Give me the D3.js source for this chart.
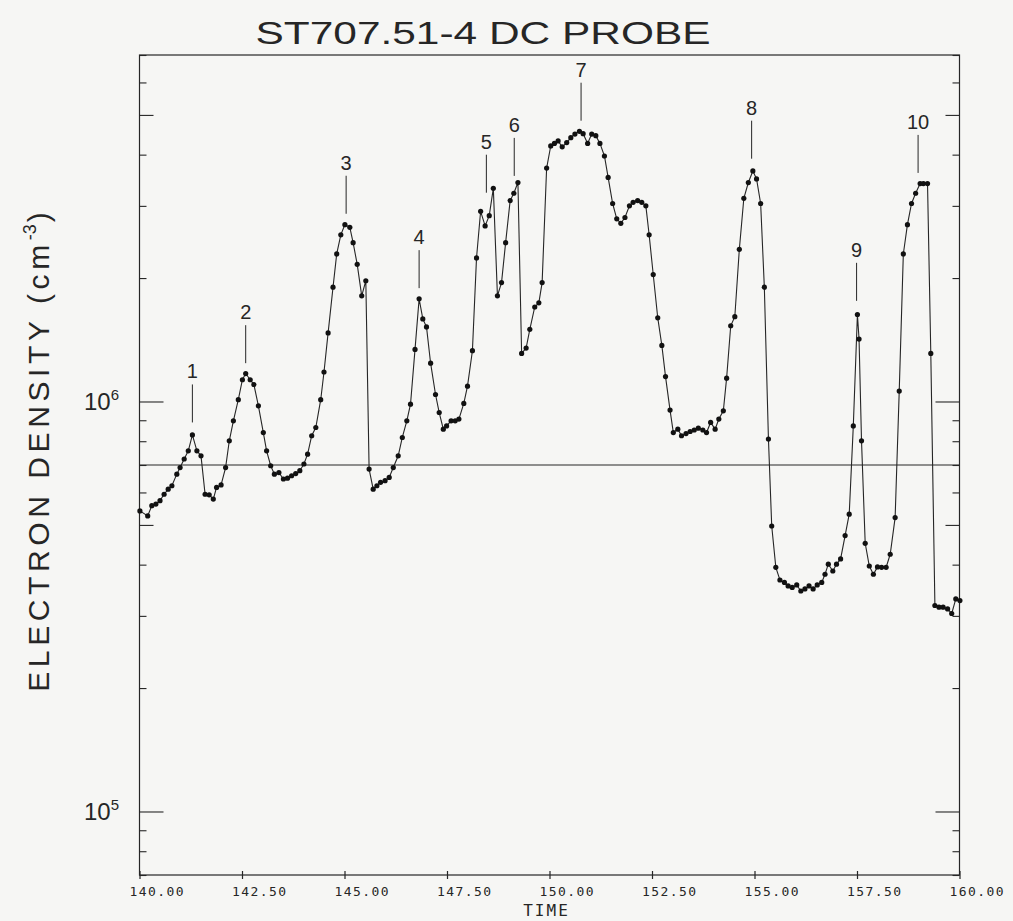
<!DOCTYPE html>
<html>
<head>
<meta charset="utf-8">
<script src="https://cdn.jsdelivr.net/npm/d3@7"></script>
<style>
  html, body { margin: 0; padding: 0; background: #f6f6f4; }
  svg { display: block; }
  .lettering { font-family: "Liberation Sans", "DejaVu Sans", sans-serif; fill: #262626; }
  .plotter { font-family: "DejaVu Sans Mono", "Liberation Mono", monospace; fill: #262626; }
</style>
</head>
<body>
<div id="chart"></div>
<script>
// sample times
const times = [
  140.01, 140.20, 140.30, 140.40, 140.50, 140.60, 140.70, 140.79, 140.91, 140.99,
  141.09, 141.19, 141.29, 141.40, 141.50, 141.60, 141.70, 141.80, 141.88, 141.99,
  142.10, 142.19, 142.29, 142.41, 142.51, 142.59, 142.70, 142.79, 142.90, 143.02,
  143.10, 143.20, 143.29, 143.40, 143.51, 143.61, 143.71, 143.81, 143.91, 144.01,
  144.10, 144.20, 144.30, 144.42, 144.50, 144.60, 144.72, 144.81, 144.91, 145.01,
  145.13, 145.21, 145.31, 145.42, 145.52, 145.60, 145.70, 145.79, 145.88, 145.99,
  146.09, 146.19, 146.31, 146.41, 146.52, 146.61, 146.72, 146.82, 146.91, 147.00,
  147.10, 147.22, 147.31, 147.41, 147.49, 147.60, 147.70, 147.79, 147.91, 148.00,
  148.12, 148.22, 148.32, 148.43, 148.53, 148.63, 148.73, 148.83, 148.93, 149.04,
  149.13, 149.23, 149.32, 149.43, 149.52, 149.64, 149.74, 149.82, 149.93, 150.03,
  150.12, 150.21, 150.31, 150.42, 150.52, 150.62, 150.73, 150.82, 150.93, 151.03,
  151.13, 151.23, 151.34, 151.43, 151.54, 151.64, 151.74, 151.84, 151.95, 152.04,
  152.15, 152.25, 152.35, 152.43, 152.53, 152.64, 152.74, 152.83, 152.94, 153.02,
  153.13, 153.22, 153.33, 153.43, 153.53, 153.63, 153.74, 153.83, 153.93, 154.04,
  154.13, 154.24, 154.32, 154.42, 154.52, 154.63, 154.74, 154.85, 154.96, 155.05,
  155.15, 155.24, 155.34, 155.42, 155.52, 155.62, 155.73, 155.82, 155.92, 156.03,
  156.13, 156.23, 156.33, 156.43, 156.53, 156.64, 156.72, 156.80, 156.91, 157.00,
  157.10, 157.21, 157.31, 157.41, 157.51, 157.55, 157.61, 157.70, 157.80, 157.90,
  158.00, 158.10, 158.21, 158.31, 158.43, 158.53, 158.63, 158.73, 158.83, 158.93,
  159.04, 159.12, 159.22, 159.30, 159.40, 159.50, 159.60, 159.71, 159.81, 159.91,
  160.01
]

// electron density, cm^-3
const density = [
  5.41e5, 5.26e5, 5.57e5, 5.62e5, 5.73e5, 5.94e5, 6.11e5, 6.23e5, 6.65e5, 6.90e5,
  7.24e5, 7.58e5, 8.29e5, 7.58e5, 7.37e5, 5.94e5, 5.92e5, 5.78e5, 6.17e5, 6.26e5,
  6.90e5, 8.02e5, 8.97e5, 1.01e6, 1.13e6, 1.17e6, 1.13e6, 1.10e6, 9.76e5, 8.40e5,
  7.58e5, 6.97e5, 6.65e5, 6.71e5, 6.47e5, 6.50e5, 6.59e5, 6.67e5, 6.78e5, 7.04e5,
  7.44e5, 8.25e5, 8.64e5, 1.01e6, 1.18e6, 1.47e6, 1.90e6, 2.29e6, 2.55e6, 2.70e6,
  2.66e6, 2.44e6, 2.16e6, 1.81e6, 1.97e6, 6.84e5, 6.11e5, 6.23e5, 6.35e5, 6.41e5,
  6.53e5, 6.90e5, 7.37e5, 8.17e5, 8.97e5, 9.85e5, 1.34e6, 1.78e6, 1.59e6, 1.52e6,
  1.24e6, 1.04e6, 9.40e5, 8.56e5, 8.72e5, 8.97e5, 8.97e5, 9.06e5, 9.89e5, 1.09e6,
  1.33e6, 2.24e6, 2.91e6, 2.68e6, 2.84e6, 3.31e6, 1.81e6, 1.95e6, 2.44e6, 3.09e6,
  3.22e6, 3.42e6, 1.31e6, 1.35e6, 1.50e6, 1.70e6, 1.74e6, 1.95e6, 3.71e6, 4.20e6,
  4.26e6, 4.32e6, 4.18e6, 4.28e6, 4.40e6, 4.49e6, 4.56e6, 4.50e6, 4.26e6, 4.49e6,
  4.45e6, 4.26e6, 3.97e6, 3.52e6, 3.04e6, 2.79e6, 2.72e6, 2.81e6, 3.00e6, 3.06e6,
  3.09e6, 3.06e6, 3.00e6, 2.55e6, 2.04e6, 1.60e6, 1.37e6, 1.15e6, 9.53e5, 8.40e5,
  8.56e5, 8.25e5, 8.35e5, 8.45e5, 8.52e5, 8.61e5, 8.52e5, 8.40e5, 8.89e5, 8.56e5,
  9.06e5, 9.49e5, 1.14e6, 1.53e6, 1.61e6, 2.35e6, 3.13e6, 3.42e6, 3.65e6, 3.49e6,
  3.04e6, 1.90e6, 8.10e5, 4.97e5, 3.94e5, 3.67e5, 3.62e5, 3.55e5, 3.52e5, 3.57e5,
  3.45e5, 3.49e5, 3.55e5, 3.49e5, 3.57e5, 3.62e5, 3.79e5, 4.01e5, 3.86e5, 4.01e5,
  4.13e5, 4.71e5, 5.31e5, 8.72e5, 1.63e6, 1.42e6, 8.02e5, 4.51e5, 3.97e5, 3.79e5,
  3.95e5, 3.94e5, 3.94e5, 4.24e5, 5.21e5, 1.06e6, 2.29e6, 2.70e6, 3.04e6, 3.22e6,
  3.40e6, 3.40e6, 3.40e6, 1.31e6, 3.18e5, 3.15e5, 3.15e5, 3.12e5, 3.04e5, 3.30e5,
  3.27e5
]

// numbered events: label, time of marker, density at foot of marker
const peakNames = ["1", "2", "3", "4", "5", "6", "7", "8", "9", "10"]
const peakTimes = [141.29, 142.59, 145.04, 146.82, 148.46, 149.14, 150.77, 154.93, 157.49, 158.99]
const peakLevels = [8.89e5, 1.24e6, 2.87e6, 1.89e6, 3.23e6, 3.55e6, 4.84e6, 3.91e6, 1.76e6, 3.61e6]

const xTicks = [140, 142.5, 145, 147.5, 150, 152.5, 155, 157.5, 160]
const xDomain = [140, 160]
const yDomain = [7e4, 7e6]
const yLabelled = [1e5, 1e6]
const refLevel = 7e5

const W = 1013, H = 921
const margin = {top: 55, right: 53.5, bottom: 46, left: 139.5}
const width = W - margin.left - margin.right
const height = H - margin.top - margin.bottom
const ink = "#262626"

const svg = d3.select("#chart").append("svg")
    .attr("width", W)
    .attr("height", H)

const g = svg.append("g")
    .attr("transform", "translate(" + margin.left + "," + margin.top + ")")

const x = d3.scaleLinear().domain(xDomain).range([0, width])
const y = d3.scaleLog().domain(yDomain).range([height, 0])

// frame
g.append("rect")
    .attr("width", width)
    .attr("height", height)
    .attr("fill", "none")
    .attr("stroke", ink)
    .attr("stroke-width", 1.2)

// y ticks, left and right, pointing inward
const tickLen = v => {
    const m = Math.round(v / Math.pow(10, Math.floor(Math.log10(v) + 1e-9)))
    return m === 1 ? 24 : (m === 5 ? 14 : 7)
}
const yTicks = y.ticks().filter(v => v >= yDomain[0] && v <= yDomain[1])

const yAxisL = d3.axisRight(y).tickValues(yTicks).tickFormat("").tickSizeOuter(0)
const yAxisR = d3.axisLeft(y).tickValues(yTicks).tickFormat("").tickSizeOuter(0)

g.append("g").attr("class", "y-axis-left").call(yAxisL)
g.append("g").attr("class", "y-axis-right").attr("transform", "translate(" + width + ",0)").call(yAxisR)

g.selectAll(".y-axis-left .tick line").attr("x2", d => tickLen(d))
g.selectAll(".y-axis-right .tick line").attr("x2", d => -tickLen(d))
g.selectAll(".y-axis-left path, .y-axis-right path").remove()
g.selectAll(".y-axis-left line, .y-axis-right line").attr("stroke", ink).attr("stroke-width", 1.1)

// y labels, 10^n
const yLab = svg.append("g").selectAll("text").data(yLabelled).enter()
    .append("text")
    .attr("class", "lettering")
    .attr("x", 119)
    .attr("y", d => margin.top + y(d) + 9)
    .attr("text-anchor", "end")
    .attr("font-size", 24)
    .text("10")
yLab.append("tspan")
    .attr("font-size", 15)
    .attr("dy", -10)
    .text(d => Math.round(Math.log10(d)))

// x axis with crossing ticks
const xAxis = d3.axisBottom(x).tickValues(xTicks).tickFormat("").tickSizeInner(4).tickSizeOuter(0)
const xg = g.append("g").attr("class", "x-axis").attr("transform", "translate(0," + height + ")").call(xAxis)
xg.select("path").remove()
xg.selectAll(".tick line").attr("y1", -4).attr("y2", 4).attr("stroke", ink).attr("stroke-width", 1.2)

g.selectAll(".x-label").data(xTicks).enter()
    .append("text")
    .attr("class", "plotter x-label")
    .attr("x", d => x(d) - 10)
    .attr("y", height + 21)
    .attr("font-size", 13)
    .attr("letter-spacing", 1.4)
    .text(d => d.toFixed(2))

g.append("text")
    .attr("class", "plotter")
    .attr("x", width / 2 - 3)
    .attr("y", height + 41)
    .attr("text-anchor", "middle")
    .attr("font-size", 16)
    .attr("letter-spacing", 2)
    .text("TIME")

// reference level
g.append("line")
    .attr("x1", 0)
    .attr("x2", width)
    .attr("y1", y(refLevel))
    .attr("y2", y(refLevel))
    .attr("stroke", ink)
    .attr("stroke-width", 1.2)

// data
const pts = times.map((t, i) => ({t: t, v: density[i]}))

g.append("path")
    .datum(pts)
    .attr("fill", "none")
    .attr("stroke", ink)
    .attr("stroke-width", 1.1)
    .attr("d", d3.line().x(d => x(d.t)).y(d => y(d.v)))

g.selectAll("circle.pt").data(pts).enter()
    .append("circle")
    .attr("class", "pt")
    .attr("cx", d => x(d.t))
    .attr("cy", d => y(d.v))
    .attr("r", 2.6)
    .attr("fill", "#111")

// numbered markers
const peaks = peakNames.map((n, i) => ({n: n, t: peakTimes[i], v: peakLevels[i]}))
const markLen = 38

g.selectAll("line.mark").data(peaks).enter()
    .append("line")
    .attr("class", "mark")
    .attr("x1", d => x(d.t))
    .attr("x2", d => x(d.t))
    .attr("y1", d => y(d.v))
    .attr("y2", d => y(d.v) - markLen)
    .attr("stroke", ink)
    .attr("stroke-width", 1)

g.selectAll("text.mark").data(peaks).enter()
    .append("text")
    .attr("class", "lettering mark")
    .attr("x", d => x(d.t))
    .attr("y", d => y(d.v) - markLen - 6)
    .attr("text-anchor", "middle")
    .attr("font-size", 20)
    .text(d => d.n)

// title
svg.append("text")
    .attr("class", "lettering")
    .attr("x", 483)
    .attr("y", 44)
    .attr("text-anchor", "middle")
    .attr("font-size", 31)
    .attr("textLength", 455)
    .attr("lengthAdjust", "spacingAndGlyphs")
    .text("ST707.51-4  DC PROBE")

// y title
const yt = svg.append("text")
    .attr("class", "lettering")
    .attr("transform", "translate(49," + 452 + ") rotate(-90)")
    .attr("text-anchor", "middle")
    .attr("font-size", 30)
yt.append("tspan").attr("letter-spacing", 4.6).text("ELECTRON DENSITY (cm")
yt.append("tspan").attr("font-size", 18).attr("letter-spacing", 0).attr("dy", -13).text("-3")
yt.append("tspan").attr("dx", 2).attr("dy", 13).text(")")
</script>
</body>
</html>
